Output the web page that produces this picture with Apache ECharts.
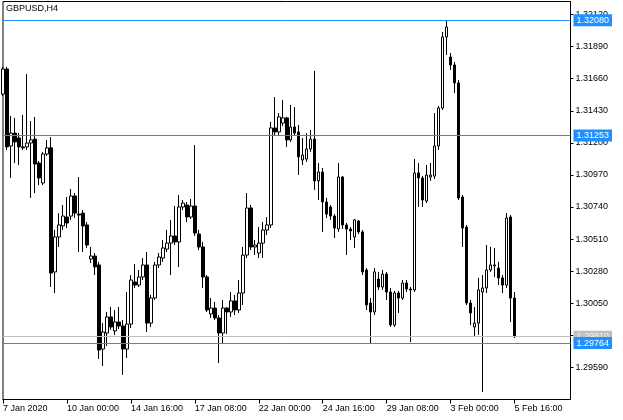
<!DOCTYPE html>
<html><head><meta charset="utf-8">
<script src="https://cdn.jsdelivr.net/npm/echarts@6/dist/echarts.min.js"></script>
<style>html,body{margin:0;padding:0;background:#fff}#c{width:623px;height:420px}</style>
</head><body><div id="c"></div>
<script>
// Trading days (H4 bars, 6 per day) – first bar 7 Jan 08:00, last bar 5 Feb 16:00
const tradingDays = ['7 Jan','8 Jan','9 Jan','10 Jan','13 Jan','14 Jan','15 Jan','16 Jan','17 Jan',
  '20 Jan','21 Jan','22 Jan','23 Jan','24 Jan','27 Jan','28 Jan','29 Jan','30 Jan','31 Jan',
  '3 Feb','4 Feb','5 Feb','6 Feb','7 Feb','10 Feb'];
const barHours = ['00:00','04:00','08:00','12:00','16:00','20:00'];
const xTickLabels = ['7 Jan 2020','10 Jan 00:00','14 Jan 16:00','17 Jan 08:00','22 Jan 00:00',
  '24 Jan 16:00','29 Jan 08:00','3 Feb 00:00','5 Feb 16:00'];
const yTickValues = [1.29590,1.29820,1.30050,1.30280,1.30510,1.30740,1.30970,1.31200,1.31430,1.31660,1.31890,1.32120];
const levelLines = [1.32080, 1.31253, 1.29764];
const bidPrice = 1.29810;

const opens = [1.31550,1.31730,1.31178,1.31270,1.31235,1.31171,1.31171,1.31199,1.31227,1.31055,
1.30912,1.31120,1.31164,1.30274,1.30525,1.30604,1.30668,1.30675,1.30819,1.30689,
1.30696,1.30611,1.30367,1.30388,1.30324,1.29721,1.29836,1.29951,1.29851,1.29915,
1.29886,1.29721,1.29900,1.30202,1.30180,1.30238,1.30324,1.29907,1.30087,1.30324,
1.30374,1.30438,1.30481,1.30532,1.30489,1.30740,1.30754,1.30668,1.30747,1.30546,
1.30453,1.30238,1.29972,1.30015,1.29944,1.29836,1.30015,1.29987,1.30066,1.30001,
1.30123,1.30395,1.30733,1.30453,1.30410,1.30481,1.30575,1.30611,1.31307,1.31278,
1.31342,1.31379,1.31221,1.31314,1.31278,1.31077,1.31084,1.31156,1.31227,1.30927,
1.30991,1.30776,1.30740,1.30675,1.30582,1.30955,1.30611,1.30582,1.30525,1.30640,
1.30561,1.30288,1.30051,1.29987,1.30223,1.30166,1.30259,1.30130,1.29893,1.30123,
1.30087,1.30195,1.30152,1.30145,1.30984,1.30948,1.30783,1.30955,1.30962,1.31178,
1.31450,1.31960,1.31816,1.31759,1.31630,1.30812,1.30596,1.30051,1.29879,1.29907,
1.30130,1.30159,1.30288,1.30317,1.30302,1.30231,1.30180,1.30668,1.30087];
const closes = [1.31730,1.31171,1.31270,1.31207,1.31171,1.31164,1.31199,1.31221,1.31048,1.30948,
1.31120,1.31164,1.30266,1.30525,1.30611,1.30675,1.30625,1.30819,1.30696,1.30682,
1.30604,1.30467,1.30388,1.30310,1.29714,1.29843,1.29951,1.29879,1.29915,1.29886,
1.29721,1.29900,1.30216,1.30180,1.30238,1.30324,1.29907,1.30087,1.30324,1.30381,
1.30446,1.30481,1.30532,1.30489,1.30740,1.30768,1.30668,1.30747,1.30553,1.30453,
1.30238,1.30001,1.30015,1.29944,1.29836,1.30015,1.29987,1.30066,1.30001,1.30123,
1.30395,1.30733,1.30453,1.30467,1.30481,1.30575,1.30611,1.31307,1.31278,1.31386,
1.31379,1.31221,1.31314,1.31270,1.31099,1.31113,1.31156,1.31227,1.30927,1.30991,
1.30776,1.30689,1.30675,1.30589,1.30955,1.30611,1.30582,1.30568,1.30647,1.30561,
1.30274,1.30037,1.29987,1.30274,1.30166,1.30259,1.30130,1.29893,1.30123,1.30087,
1.30195,1.30152,1.30145,1.30984,1.30948,1.30790,1.30969,1.30969,1.31178,1.31450,
1.31960,1.32031,1.31759,1.31630,1.30805,1.30589,1.30051,1.29980,1.29907,1.30145,
1.30159,1.30288,1.30324,1.30324,1.30231,1.30180,1.30661,1.30087,1.29810];
const lows = [1.31536,1.31149,1.30948,1.31055,1.31041,1.31149,1.31149,1.30805,1.30840,1.30898,
1.30898,1.31106,1.30166,1.30123,1.30453,1.30575,1.30589,1.30647,1.30661,1.30417,
1.30417,1.30446,1.30338,1.30252,1.29649,1.29599,1.29743,1.29858,1.29822,1.29865,
1.29535,1.29657,1.29872,1.30159,1.30166,1.30216,1.29843,1.29879,1.30073,1.30302,
1.30346,1.30417,1.30252,1.30467,1.30310,1.30718,1.30632,1.30654,1.30532,1.30431,
1.30159,1.29987,1.29944,1.29929,1.29621,1.29764,1.29829,1.29951,1.29965,1.29980,
1.30037,1.30374,1.30431,1.30395,1.30374,1.30374,1.30539,1.30589,1.31256,1.31256,
1.31321,1.31171,1.31207,1.31256,1.30969,1.31041,1.31063,1.31135,1.30862,1.30790,
1.30561,1.30661,1.30647,1.30517,1.30561,1.30582,1.30395,1.30503,1.30446,1.30546,
1.30252,1.30001,1.29764,1.29965,1.30145,1.30145,1.30073,1.29879,1.29879,1.29980,
1.30073,1.30130,1.29771,1.30130,1.30740,1.30740,1.30768,1.30927,1.30941,1.31149,
1.31436,1.31830,1.31723,1.31558,1.30790,1.30453,1.30037,1.29893,1.29807,1.29822,
1.29413,1.30123,1.30274,1.30238,1.30180,1.30123,1.30159,1.29915,1.29800];
const highs = [1.31745,1.31745,1.31393,1.31379,1.31270,1.31400,1.31694,1.31357,1.31386,1.31070,
1.31135,1.31221,1.31242,1.30575,1.30696,1.30754,1.30812,1.30869,1.30840,1.30955,
1.30718,1.30632,1.30453,1.30410,1.30346,1.29907,1.29987,1.30023,1.30001,1.30023,
1.29929,1.30130,1.30252,1.30331,1.30288,1.30374,1.30417,1.30109,1.30346,1.30410,
1.30503,1.30575,1.30647,1.30747,1.30826,1.30790,1.30776,1.30797,1.31185,1.30575,
1.30489,1.30252,1.30087,1.30059,1.29965,1.30073,1.30023,1.30130,1.30109,1.30216,
1.30453,1.30840,1.30754,1.30503,1.30596,1.30632,1.30668,1.31350,1.31529,1.31414,
1.31508,1.31386,1.31472,1.31457,1.31328,1.31235,1.31270,1.31292,1.31716,1.31055,
1.31020,1.30805,1.30754,1.30689,1.31055,1.30962,1.30625,1.30596,1.30654,1.30647,
1.30575,1.30302,1.30087,1.30302,1.30274,1.30288,1.30274,1.30159,1.30138,1.30138,
1.30216,1.30216,1.30166,1.31084,1.31055,1.30962,1.31041,1.31055,1.31414,1.31465,
1.31995,1.32080,1.31845,1.31780,1.31651,1.30826,1.30611,1.30073,1.30023,1.30231,
1.30252,1.30467,1.30453,1.30446,1.30346,1.30252,1.30696,1.30682,1.30130];

const TOTAL_SLOTS = 143; // bars + empty chart shift on the right
const categories = [];
outer: for (let d = 0; d < tradingDays.length; d++) {
  for (let h = 0; h < barHours.length; h++) {
    if (d === 0 && h < 2) continue;
    categories.push(tradingDays[d] + ' ' + barHours[h]);
    if (categories.length >= TOTAL_SLOTS) break outer;
  }
}
const ohlc = opens.map((o, i) => [o, closes[i], lows[i], highs[i]]);

const FONT = 'Liberation Sans';
const BLUE = '#1e90ff';
const LINE_BLUE = '#1e90ff';
const chart = echarts.init(document.getElementById('c'), null, {renderer: 'canvas'});
chart.setOption({
  animation: false,
  backgroundColor: '#ffffff',
  title: {text: 'GBPUSD,H4', left: 6, top: 4, padding: 0,
    textStyle: {fontFamily: FONT, fontSize: 9, fontWeight: 'normal', color: '#000'}},
  grid: {left: 2.5, top: 1.5, width: 568, height: 398, show: true, borderColor: '#000', borderWidth: 1, backgroundColor: 'transparent'},
  xAxis: {
    type: 'category', data: categories, boundaryGap: false,
    axisLine: {show: true, lineStyle: {color: '#000', width: 1}},
    axisTick: {show: true, length: 4, inside: false, interval: (i) => i % 16 === 0 && i <= 128, lineStyle: {color: '#000'}},
    axisLabel: {show: true, interval: (i) => i % 16 === 0 && i <= 128, align: 'left', margin: 5,
      fontFamily: FONT, fontSize: 9, color: '#000',
      formatter: (v, i) => xTickLabels[Math.round(i / 16)] || ''},
    splitLine: {show: false}
  },
  yAxis: {
    type: 'value', position: 'right', min: 1.29359, max: 1.32214, scale: true,
    axisLine: {show: true, lineStyle: {color: '#000', width: 1}},
    axisTick: {show: true, length: 3, inside: false, customValues: yTickValues, lineStyle: {color: '#000'}},
    axisLabel: {show: true, customValues: yTickValues, margin: 5, fontFamily: FONT, fontSize: 9, color: '#000',
      formatter: (v) => v.toFixed(5)},
    splitLine: {show: false}
  },
  series: [{
    type: 'candlestick', data: ohlc, barWidth: 3,
    itemStyle: {color: '#ffffff', color0: '#000000', borderColor: '#000000', borderColor0: '#000000', borderColorDoji: '#000000', borderWidth: 1},
    markLine: {
      silent: true, symbol: ['none', 'none'], animation: false, precision: 5,
      lineStyle: {color: LINE_BLUE, width: 1, type: 'solid', opacity: 1},
      label: {show: true, position: 'end', distance: 3, formatter: (p) => Number(p.value).toFixed(5),
        fontFamily: FONT, fontSize: 9, color: '#ffffff', backgroundColor: BLUE, padding: [2, 3, 1, 3]},
      emphasis: {disabled: true},
      data: [
        {yAxis: bidPrice, lineStyle: {color: '#c0c0c0', width: 1, type: 'solid'},
          label: {backgroundColor: '#c0c0c0', color: '#f2f2f2'}},
        ...levelLines.map(v => ({yAxis: v, lineStyle: {color: LINE_BLUE, width: 1, type: 'solid', opacity: 1},
          label: {backgroundColor: BLUE, color: '#ffffff'}}))
      ]
    }
  }]
});
</script></body></html>
